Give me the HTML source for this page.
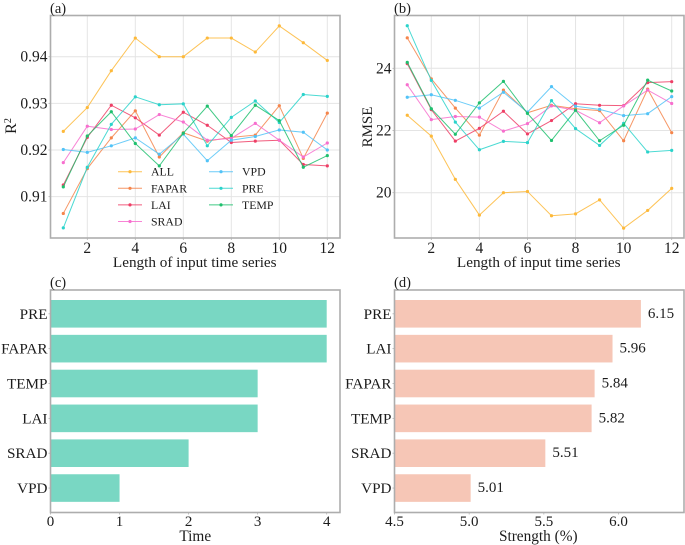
<!DOCTYPE html>
<html lang="en">
<head>
<meta charset="utf-8">
<title>Time series length and feature comparison</title>
<style>
html,body{margin:0;padding:0;background:#fff;}
body{width:685px;height:545px;overflow:hidden;}
svg{display:block;filter:blur(0.35px);}
text{font-family:"Liberation Serif",serif;fill:#1c1c1c;}
</style>
</head>
<body>
<svg id="chart" xmlns="http://www.w3.org/2000/svg" width="685" height="545" viewBox="0 0 685 545">
  <g id="panel-a"></g>
  <g id="panel-b"></g>
  <g id="panel-c"></g>
  <g id="panel-d"></g>
</svg>
<script>
const lengths = [1,2,3,4,5,6,7,8,9,10,11,12];
const seriesNames = ['ALL','FAPAR','LAI','SRAD','VPD','PRE','TEMP'];
const seriesColors = ['#fdb93a','#f5854b','#ee3f66','#f76fce','#52c3f7','#2bd3cb','#1fc06e'];

const r2All   = [.924,.9291,.937,.944,.94,.94,.944,.944,.941,.9466,.943,.9392];
const r2Fapar = [.9064,.916,.9226,.9284,.9185,.9237,.9219,.9227,.9232,.9295,.9182,.9279];
const r2Lai   = [.9125,.9227,.9296,.9269,.9232,.9281,.9253,.9216,.9219,.9221,.9169,.9166];
const r2Srad  = [.9173,.9251,.9244,.9245,.9276,.926,.9221,.9225,.9257,.9221,.9185,.9215];
const r2Vpd   = [.9201,.9195,.9209,.9226,.9191,.9234,.9177,.9221,.9229,.9243,.9238,.92];
const r2Pre   = [.9033,.9163,.9255,.9314,.9297,.9299,.9209,.927,.9305,.9259,.9319,.9315];
const r2Temp  = [.9121,.923,.9282,.9214,.9166,.9236,.9294,.9231,.9296,.9263,.9163,.9188];

const rmseAll   = [22.49,21.82,20.43,19.28,20.0,20.04,19.26,19.32,19.77,18.86,19.43,20.14];
const rmseFapar = [24.98,23.66,22.72,21.85,23.3,22.57,22.81,22.7,22.64,21.67,23.33,21.93];
const rmseLai   = [24.15,22.67,21.66,22.07,22.62,21.89,22.32,22.86,22.81,22.8,23.54,23.57];
const rmseSrad  = [23.47,22.35,22.45,22.43,21.98,22.22,22.79,22.65,22.25,22.79,23.3,22.87];
const rmseVpd   = [23.07,23.15,22.97,22.72,23.23,22.59,23.41,22.78,22.68,22.48,22.54,23.09];
const rmsePre   = [25.37,23.61,22.27,21.38,21.65,21.61,22.96,22.06,21.52,22.23,21.31,21.36];
const rmseTemp  = [24.19,22.7,21.88,22.89,23.58,22.55,21.68,22.65,21.67,22.17,23.62,23.27];

const lineTicksX = [2,4,6,8,10,12];
const r2Ticks = [0.91,0.92,0.93,0.94];
const rmseTicks = [20,22,24];

const timeCategories = ['PRE','FAPAR','TEMP','LAI','SRAD','VPD'];
const timeValues = [4,4,3,3,2,1];
const timeTicks = [0,1,2,3,4];

const strengthCategories = ['PRE','LAI','FAPAR','TEMP','SRAD','VPD'];
const strengthValues = [6.15,5.96,5.84,5.82,5.51,5.01];
const strengthTicks = [4.5,5.0,5.5,6.0];

const r2Series = [r2All,r2Fapar,r2Lai,r2Srad,r2Vpd,r2Pre,r2Temp];
const rmseSeries = [rmseAll,rmseFapar,rmseLai,rmseSrad,rmseVpd,rmsePre,rmseTemp];

const NS = 'http://www.w3.org/2000/svg';
function mk(parent, tag, props, txt){
  const el = document.createElementNS(NS, tag);
  for (const k in props) el.setAttribute(k, props[k]);
  if (txt !== undefined) el.textContent = txt;
  parent.appendChild(el);
  return el;
}
function linear(d0, d1, r0, r1){ return v => r0 + (v - d0) * (r1 - r0) / (d1 - d0); }
function slug(s){ return String(s).toLowerCase().replace(/[^a-z0-9]+/g,'-'); }

function frame(g, L, T, R, B){
  const el = mk(g,'rect',{x:L,y:T,width:R-L,height:B-T,fill:'none',stroke:'#adadad','stroke-width':1.6});
  
  
}
function label(g, x, y, s, size, anchor, name){
  const el = mk(g,'text',{x:x,y:y,'font-size':size,'text-anchor':anchor||'start'},s);
  
  
  return el;
}
function tickMark(g, x1, y1, x2, y2){
  const el = mk(g,'line',{x1:x1,y1:y1,x2:x2,y2:y2,stroke:'#b0b0b0','stroke-width':0.8});
  
  
}
function gridLine(g, x1, y1, x2, y2){
  const el = mk(g,'line',{x1:x1,y1:y1,x2:x2,y2:y2,stroke:'#e4e4e4','stroke-width':1});
  
  
}

function linePanel(g, box, sx, sy, yTicks, yFmt, series){
  const {L,T,R,B} = box;
  lineTicksX.forEach(t => gridLine(g, sx(t), T, sx(t), B));
  yTicks.forEach(t => gridLine(g, L, sy(t), R, sy(t)));
  series.forEach((vals, i) => {
    const sg = mk(g,'g',{});
    
    
    const line = mk(sg,'polyline',{
      points: vals.map((v,j) => sx(lengths[j]).toFixed(2)+','+sy(v).toFixed(2)).join(' '),
      fill:'none', stroke:seriesColors[i], 'stroke-width':1, 'stroke-opacity':0.85
    });
    
    
    vals.forEach((v,j) => {
      const pt = mk(sg,'circle',{cx:sx(lengths[j]),cy:sy(v),r:1.6,fill:seriesColors[i]});
      
      
    });
  });
  frame(g,L,T,R,B);
  lineTicksX.forEach(t => {
    tickMark(g, sx(t), B, sx(t), B+2);
    label(g, sx(t), B+15, t, 15.5, 'middle', 'x-tick-label');
  });
  yTicks.forEach(t => {
    tickMark(g, L-2, sy(t), L, sy(t));
    label(g, L-3, sy(t)+5, yFmt(t), 15.5, 'end', 'y-tick-label');
  });
  label(g, (L+R)/2 - 0.5, B+29, 'Length of input time series', 15.2, 'middle', 'x-axis-title');
}

function barPanel(g, box, sx, cats, vals, ticks, fmt, color, xTitle, showValues){
  const {L,T,R,B} = box;
  const step = 34.85, h = 27.6, first = 300;
  vals.forEach((v,i) => {
    const y = first + i*step;
    const bar = mk(g,'rect',{x:L,y:y,width:sx(v)-L,height:h,fill:color});
    
    
    tickMark(g, L-2, y+h/2, L, y+h/2);
    label(g, L-3, y+h/2+5, cats[i], 15.2, 'end', 'y-tick-label');
    if (showValues) label(g, sx(v)+7, y+h/2+4, v.toFixed(2), 15, 'start', 'bar-value-label');
  });
  frame(g,L,T,R,B);
  ticks.forEach(t => {
    tickMark(g, sx(t), B, sx(t), B+2);
    label(g, sx(t), B+13.5, fmt(t), 15, 'middle', 'x-tick-label');
  });
  label(g, (L+R)/2 + (showValues ? -1 : 0), B+28.5, xTitle, 15.3, 'middle', 'x-axis-title');
}

/* Panel (a) */
const gA = document.getElementById('panel-a');
const boxA = {L:50.5,T:15.5,R:340,B:238};
const xA = linear(2,12,87.3,327.3);
const yA = linear(0.92,0.94,150,56.7);
linePanel(gA, boxA, xA, yA, r2Ticks, t => t.toFixed(2), r2Series);
label(gA, 50, 13, '(a)', 14.5, 'start', 'panel-a-label');
const r2Title = mk(gA,'text',{transform:'translate(16,126) rotate(-90)','font-size':16,'text-anchor':'middle'});


mk(r2Title,'tspan',{},'R');
mk(r2Title,'tspan',{dy:-5,'font-size':10},'2');

/* Legend in panel (a) */
const legend = mk(gA,'g',{});


seriesNames.forEach((n,i) => {
  const col = i < 4 ? 0 : 1;
  const row = i < 4 ? i : i - 4;
  const x0 = col === 0 ? 118 : 209;
  const y0 = 171.7 + row*16.6;
  const entry = mk(legend,'g',{});
  
  
  const ln = mk(entry,'line',{x1:x0,y1:y0,x2:x0+24,y2:y0,stroke:seriesColors[i],'stroke-width':1,'stroke-opacity':0.85});
  
  
  const dot = mk(entry,'circle',{cx:x0+12,cy:y0,r:1.6,fill:seriesColors[i]});
  
  
  label(entry, x0+33, y0+4, n, 11.8, 'start', 'legend-label');
});

/* Panel (b) */
const gB = document.getElementById('panel-b');
const boxB = {L:394.5,T:15.5,R:684,B:238};
const xB = linear(2,12,431.3,671.7);
const yB = linear(20,24,192.7,68.3);
linePanel(gB, boxB, xB, yB, rmseTicks, t => String(t), rmseSeries);
label(gB, 394, 13, '(b)', 14.5, 'start', 'panel-b-label');
const rmseTitle = mk(gB,'text',{transform:'translate(372,127) rotate(-90)','font-size':15,'text-anchor':'middle'},'RMSE');



/* Panel (c) */
const gC = document.getElementById('panel-c');
const boxC = {L:50.5,T:290,R:340,B:512.5};
const xC = linear(0,4,50.5,326.7);
barPanel(gC, boxC, xC, timeCategories, timeValues, timeTicks, t => String(t), '#79d7c3', 'Time', false);
label(gC, 50, 287, '(c)', 14.5, 'start', 'panel-c-label');

/* Panel (d) */
const gD = document.getElementById('panel-d');
const boxD = {L:394.5,T:290,R:684,B:512.5};
const xD = linear(4.5,6.0,394.5,618.5);
barPanel(gD, boxD, xD, strengthCategories, strengthValues, strengthTicks, t => t.toFixed(1), '#f6c6b6', 'Strength (%)', true);
label(gD, 394, 287, '(d)', 14.5, 'start', 'panel-d-label');
</script>
</body>
</html>
